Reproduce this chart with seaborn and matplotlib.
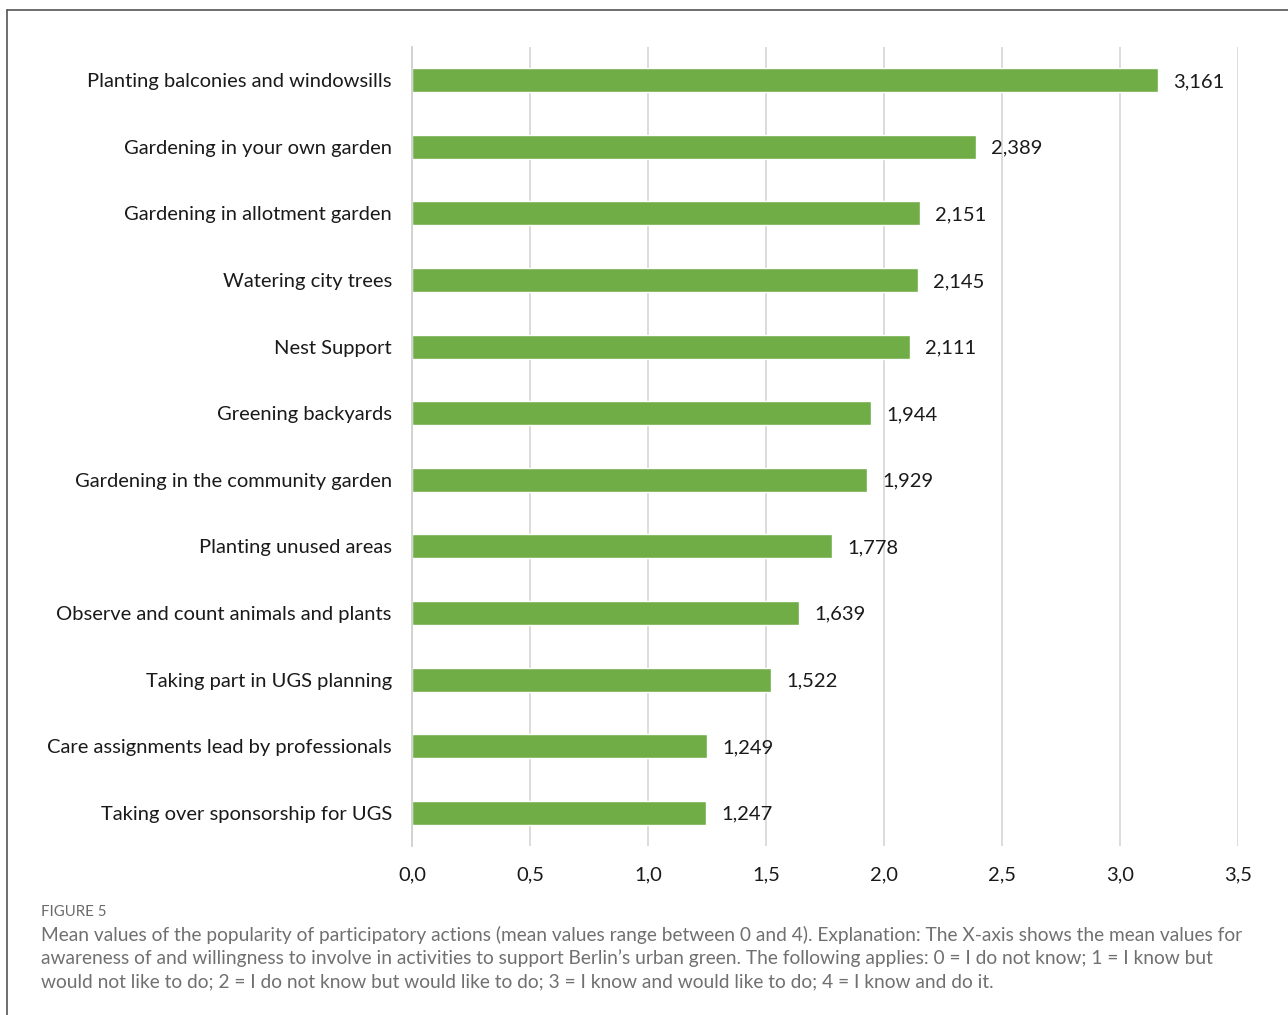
import matplotlib
matplotlib.use("Agg")
import matplotlib.pyplot as plt
import seaborn as sns
import pandas as pd
from matplotlib.lines import Line2D
from matplotlib.ticker import FuncFormatter, MultipleLocator

categories = [
    "Planting balconies and windowsills",
    "Gardening in your own garden",
    "Gardening in allotment garden",
    "Watering city trees",
    "Nest Support",
    "Greening backyards",
    "Gardening in the community garden",
    "Planting unused areas",
    "Observe and count animals and plants",
    "Taking part in UGS planning",
    "Care assignments lead by professionals",
    "Taking over sponsorship for UGS",
]
values = [3.161, 2.389, 2.151, 2.145, 2.111, 1.944, 1.929, 1.778, 1.639, 1.522, 1.249, 1.247]

caption_title = "FIGURE 5"
caption_lines = [
    "Mean values of the popularity of participatory actions (mean values range between 0 and 4). Explanation: The X-axis shows the mean values for",
    "awareness of and willingness to involve in activities to support Berlin\u2019s urban green. The following applies: 0 = I do not know; 1 = I know but",
    "would not like to do; 2 = I do not know but would like to do; 3 = I know and would like to do; 4 = I know and do it.",
]

df = pd.DataFrame({"activity": categories, "mean": values})

sns.set_theme(style="white")
plt.rcParams["font.family"] = ["Lato", "DejaVu Sans"]

W, H = 1288, 1015
fig = plt.figure(figsize=(W / 100, H / 100), dpi=100)
ax = fig.add_axes([412 / W, 1 - 846 / H, (1238 - 412) / W, (846 - 47) / H])

sns.barplot(data=df, y="activity", x="mean", orient="h", color="#70AD47",
            width=0.36, saturation=1, ax=ax)

ax.set_xlim(0, 3.5)
ax.set_ylim(len(categories) - 0.5, -0.5)
ax.xaxis.set_major_locator(MultipleLocator(0.5))
ax.xaxis.set_major_formatter(FuncFormatter(lambda v, p: f"{v:.1f}".replace(".", ",")))
ax.grid(axis="x", color="#D9D9D9", linewidth=1.3)
ax.set_axisbelow(True)
for s in ["top", "right", "bottom"]:
    ax.spines[s].set_visible(False)
ax.spines["left"].set_color("#D0D0D0")
ax.spines["left"].set_linewidth(1.3)
ax.set_xlabel("")
ax.set_ylabel("")
ax.tick_params(axis="x", length=0, pad=14.5, labelsize=14.5, labelcolor="#1a1a1a")
ax.tick_params(axis="y", length=9, width=1.3, color="#D0D0D0", direction="inout",
               pad=10, labelsize=14.5, labelcolor="#1a1a1a")

for i, v in enumerate(values):
    ax.annotate(f"{v:.3f}".replace(".", ","), xy=(v, i), xytext=(11, -1),
                textcoords="offset points", va="center", ha="left",
                fontsize=14.5, color="#1a1a1a")

# figure border (top and left)
fig.add_artist(Line2D([7 / W, 1.0], [1 - 10 / H, 1 - 10 / H], color="#555555", linewidth=1.2))
fig.add_artist(Line2D([7 / W, 7 / W], [0.0, 1 - 10 / H], color="#555555", linewidth=1.2))

fig.text(41 / W, 1 - 912 / H, caption_title, fontsize=10.8, color="#6b6b6b", va="center", ha="left")
for k, line in enumerate(caption_lines):
    fig.text(41 / W, 1 - (935 + 23.5 * k) / H, line, fontsize=13.8, color="#707070",
             va="center", ha="left")

fig.savefig("out.png", dpi=100)
